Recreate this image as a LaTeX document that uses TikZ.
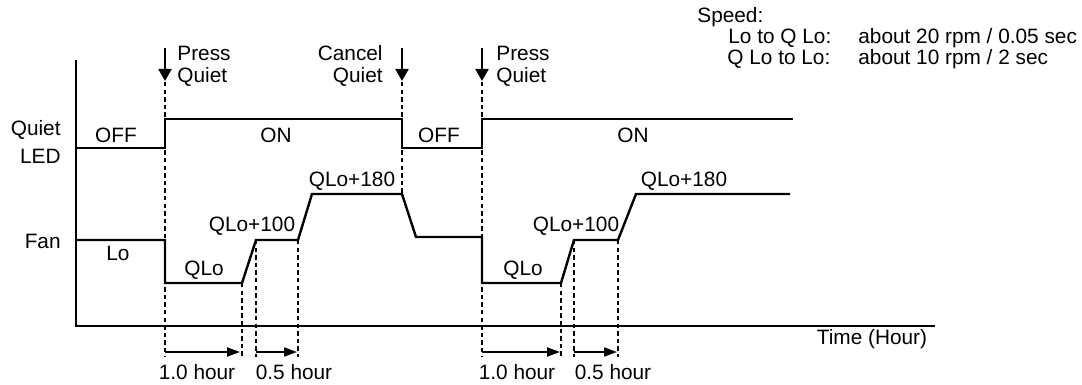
\documentclass[tikz,border=0pt]{standalone}
\usepackage{fontspec}
\setmainfont{Liberation Sans}
\usetikzlibrary{arrows.meta}
\begin{document}
\begin{tikzpicture}[x=0.5pt,y=-0.5pt,
  lbl/.style={font=\fontsize{10.4}{12}\selectfont, inner sep=0pt},
  wave/.style={line width=1.2pt, line join=miter},
  axis/.style={line width=1.2pt},
  guide/.style={line width=1pt, dash pattern=on 2.2pt off 1.6pt},
  evarrow/.style={line width=1pt, -{Triangle[length=6pt,width=6.5pt]}},
  durarrow/.style={line width=1pt, -{Triangle[length=6.5pt,width=4.5pt]}}]
\useasboundingbox (0,0) rectangle (1082,385);
% axes
\coordinate (yt) at (76,60);
\coordinate (org) at (76,326);
\coordinate (xe) at (935,326);
\draw[axis] (yt) -- (org) -- (xe);
% Quiet LED
\draw[wave] (76,148) -- (165,148) -- (165,119) -- (402,119) -- (402,148) -- (482,148) -- (482,119) -- (793,119);
% Fan
\draw[wave] (76,240) -- (165,240) -- (165,283) -- (242,283) -- (256,240) -- (298,240) -- (312,194) -- (402,194) -- (416,237) -- (482,237) -- (482,283) -- (561,283) -- (574,240) -- (618,240) -- (636,194) -- (790,194);
% event arrows
\coordinate (p1s) at (165,48); \coordinate (p1e) at (165,81);
\coordinate (c1s) at (402,48); \coordinate (c1e) at (402,81);
\coordinate (p2s) at (482,48); \coordinate (p2e) at (482,81);
\draw[evarrow] (p1s) -- (p1e);
\draw[evarrow] (c1s) -- (c1e);
\draw[evarrow] (p2s) -- (p2e);
% guides
\draw[guide] (165,82) -- (165,357);
\draw[guide] (402,82) -- (402,194);
\draw[guide] (482,82) -- (482,357);
\draw[guide] (242,283) -- (242,357);
\draw[guide] (256,240) -- (256,357);
\draw[guide] (298,240) -- (298,357);
\draw[guide] (561,283) -- (561,357);
\draw[guide] (574,240) -- (574,357);
\draw[guide] (618,240) -- (618,357);
% duration arrows
\coordinate (d1s) at (165,352); \coordinate (d1e) at (240,352);
\coordinate (d2s) at (256,352); \coordinate (d2e) at (297,352);
\coordinate (d3s) at (482,352); \coordinate (d3e) at (560,352);
\coordinate (d4s) at (574,352); \coordinate (d4e) at (617,352);
\draw[durarrow] (d1s) -- (d1e);
\draw[durarrow] (d2s) -- (d2e);
\draw[durarrow] (d3s) -- (d3e);
\draw[durarrow] (d4s) -- (d4e);
% labels
\node[lbl,anchor=east] (ql1) at (61,130) {Quiet};
\node[lbl,anchor=east] (ql2) at (61,156) {LED};
\node[lbl,anchor=east] (fan) at (61,241) {Fan};
\node[lbl] (off1) at (116,135) {OFF};
\node[lbl] (on1) at (276,135) {ON};
\node[lbl] (off2) at (439,135) {OFF};
\node[lbl] (on2) at (633,135) {ON};
\node[lbl] (lo) at (118,253) {Lo};
\node[lbl] (qlo1) at (204,270) {QLo};
\node[lbl] (q100a) at (252,226) {QLo+100};
\node[lbl] (q180a) at (352,181) {QLo+180};
\node[lbl] (qlo2) at (523,270) {QLo};
\node[lbl] (q100b) at (576,226) {QLo+100};
\node[lbl] (q180b) at (684,181) {QLo+180};
\node[lbl,anchor=west] (pr1a) at (177,53) {Press};
\node[lbl,anchor=west] (pr1b) at (177,77) {Quiet};
\node[lbl,anchor=east] (ca1a) at (383,53) {Cancel};
\node[lbl,anchor=east] (ca1b) at (383,77) {Quiet};
\node[lbl,anchor=west] (pr2a) at (496,53) {Press};
\node[lbl,anchor=west] (pr2b) at (496,77) {Quiet};
\node[lbl] (h1) at (197,372) {1.0 hour};
\node[lbl] (h2) at (294,372) {0.5 hour};
\node[lbl] (h3) at (517,372) {1.0 hour};
\node[lbl] (h4) at (613,372) {0.5 hour};
\node[lbl] (time) at (872,339) {Time (Hour)};
\node[lbl,anchor=west] (sp) at (697,17) {Speed:};
\node[lbl,anchor=west] (sp1) at (728,38) {Lo to Q Lo:};
\node[lbl,anchor=west] (sp1v) at (858,38) {about 20 rpm / 0.05 sec};
\node[lbl,anchor=west] (sp2) at (727,59) {Q Lo to Lo:};
\node[lbl,anchor=west] (sp2v) at (858,59) {about 10 rpm / 2 sec};
\end{tikzpicture}
\end{document}
